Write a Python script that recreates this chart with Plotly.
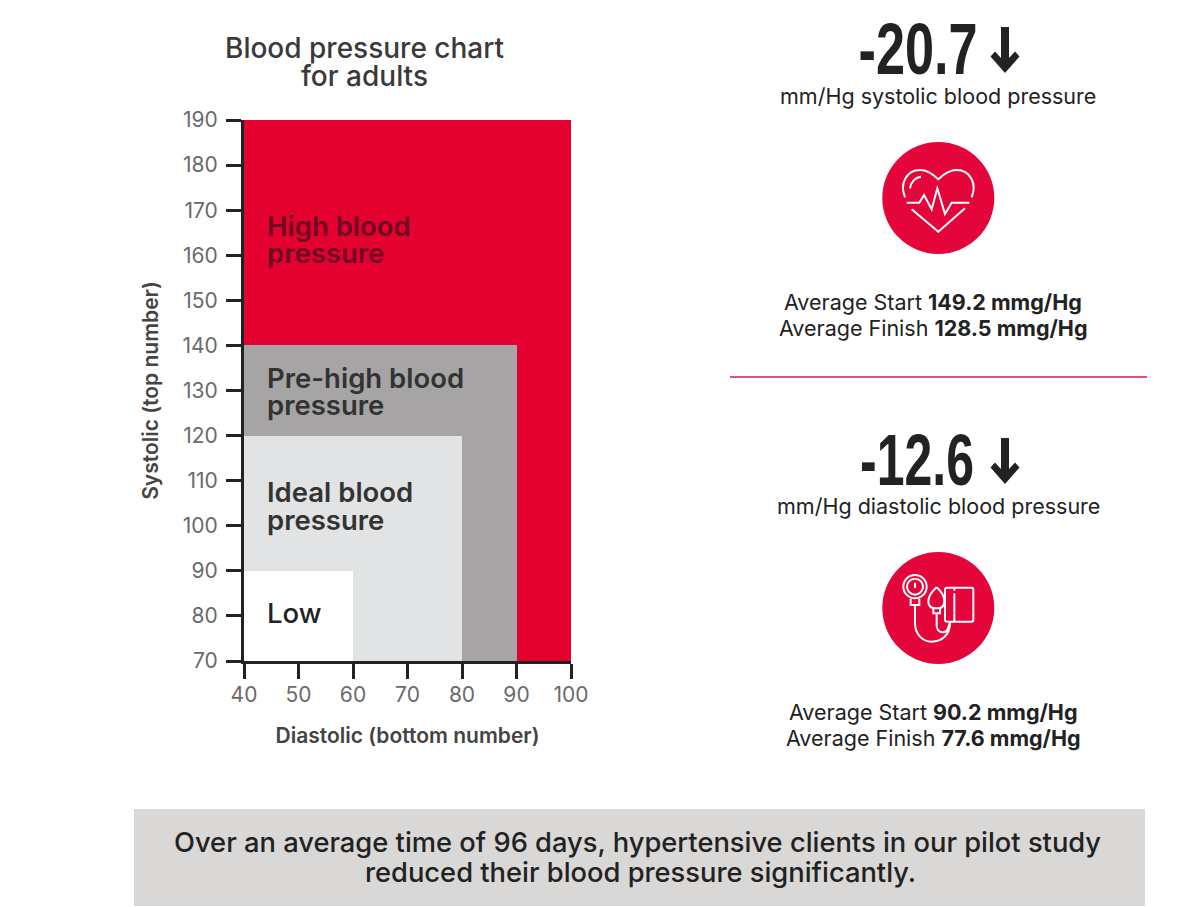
import plotly.graph_objects as go

# ---- data ----
zone_names = ["High blood pressure", "Pre-high blood pressure", "Ideal blood pressure", "Low"]
diastolic_upper = [100, 90, 80, 60]
systolic_upper = [190, 140, 120, 90]
zone_colors = ["#E4002F", "#A6A4A5", "#E1E3E5", "#FFFFFF"]
x_ticks = [40, 50, 60, 70, 80, 90, 100]
y_ticks = [70, 80, 90, 100, 110, 120, 130, 140, 150, 160, 170, 180, 190]
x_base = 40
y_base = 70

W, H = 1200, 907
DARK = "#222222"
FONT = "Inter"


def px(x):
    return x / W


def py(y):
    return 1 - y / H


def path(points, close=False):
    s = "M " + " L ".join(f"{px(x)},{py(y)}" for x, y in points)
    return s + (" Z" if close else "")


def text(x, y, s, size=20, color=DARK, weight=400, anchor="center", family=FONT, angle=0):
    return dict(x=px(x), y=py(y), xref="paper", yref="paper", text=s, showarrow=False,
                xanchor=anchor, yanchor="middle", textangle=angle,
                font=dict(size=size, color=color, family=family, weight=weight))


fig = go.Figure()
for name, d, s, c in zip(zone_names, diastolic_upper, systolic_upper, zone_colors):
    fig.add_trace(go.Bar(name=name, x=[(d + x_base) / 2], width=[d - x_base], y=[s - y_base],
                         base=[y_base], marker=dict(color=c, line=dict(width=0)), showlegend=False))

shapes = []
annots = []

annots += [
    text(365, 48, "Blood pressure chart", 28, "#3A3A3A", 500),
    text(365, 76, "for adults", 28, "#3A3A3A", 500),
    text(265, 226, "High blood", 27.5, "#6E0A22", 600, "left"),
    text(265, 253, "pressure", 27.5, "#6E0A22", 600, "left"),
    text(265, 378, "Pre-high blood", 27.5, "#333333", 600, "left"),
    text(265, 405, "pressure", 27.5, "#333333", 600, "left"),
    text(265, 492, "Ideal blood", 27.5, "#333333", 600, "left"),
    text(265, 520, "pressure", 27.5, "#333333", 600, "left"),
    text(265, 613, "Low", 27.5, "#222222", 500, "left"),
]

BIG = "Liberation Sans"
annots += [
    text(918, 48.5, "-20.7", 72, DARK, 700, family=BIG),
    text(938, 96, "mm/Hg systolic blood pressure", 21.5, DARK),
    text(933, 302, "Average Start <b>149.2 mmg/Hg</b>", 21.5, DARK),
    text(933, 328, "Average Finish <b>128.5 mmg/Hg</b>", 21.5, DARK),
    text(916.5, 460, "-12.6", 72, DARK, 700, family=BIG),
    text(938, 506, "mm/Hg diastolic blood pressure", 21.5, DARK),
    text(933, 712, "Average Start <b>90.2 mmg/Hg</b>", 21.5, DARK),
    text(933, 738, "Average Finish <b>77.6 mmg/Hg</b>", 21.5, DARK),
    text(637, 842, "Over an average time of 96 days, hypertensive clients in our pilot study", 27.3, DARK, 500),
    text(640, 872, "reduced their blood pressure significantly.", 27.3, DARK, 500),
]

shapes.append(dict(type="line", xref="paper", yref="paper", x0=px(730), x1=px(1147), y0=py(377), y1=py(377),
                   line=dict(color="#D8174B", width=1.5)))
shapes.append(dict(type="rect", xref="paper", yref="paper", x0=px(134), x1=px(1145), y0=py(809), y1=py(906),
                   fillcolor="#D9D8D6", line=dict(width=0), layer="below"))


def arrow(cx, top, bottom, head_y):
    return dict(type="path", xref="paper", yref="paper", fillcolor=DARK, line=dict(width=0),
                path=path([(cx - 4, top), (cx + 4, top), (cx + 4, head_y + 6), (cx + 10, head_y - 0.5),
                           (cx + 14.5, head_y + 4.5), (cx, bottom), (cx - 14.5, head_y + 4.5), (cx - 10, head_y - 0.5),
                           (cx - 4, head_y + 6)], True))


shapes.append(arrow(1005, 27, 73, 52))
shapes.append(arrow(1005, 438, 484, 463))


def disc(cx, cy, r):
    return dict(type="circle", xref="paper", yref="paper", x0=px(cx - r), x1=px(cx + r), y0=py(cy - r), y1=py(cy + r),
                fillcolor="#E4053A", line=dict(width=0))


shapes.append(disc(938.3, 198, 56))
shapes.append(disc(938.3, 608, 56))


def stroke(d, width=2):
    return dict(type="path", xref="paper", yref="paper", path=d, line=dict(color="white", width=width))


def zp(ox, oy, x, y):
    return f"{px(ox + x / 3):.5f},{py(oy + y / 3):.5f}"


def curve(ox, oy, cmds):
    out = []
    for c in cmds:
        out.append(c[0] + " " + " ".join(zp(ox, oy, *p) for p in c[1:]))
    return " ".join(out)


O1 = (860, 120)
shapes += [
    stroke(curve(*O1, [("M", (135, 232)), ("C", (118, 190), (140, 150), (180, 150)),
                       ("C", (205, 150), (222, 165), (235, 178)),
                       ("C", (248, 165), (265, 150), (290, 150)),
                       ("C", (330, 150), (352, 190), (335, 232))])),
    stroke(curve(*O1, [("M", (150, 205)), ("C", (152, 188), (165, 172), (183, 170))])),
    stroke(curve(*O1, [("M", (155, 268)), ("L", (235, 335)), ("L", (315, 265))])),
    stroke(curve(*O1, [("M", (140, 248)), ("L", (178, 248)), ("L", (192, 225)), ("L", (215, 268)),
                       ("L", (232, 205)), ("L", (255, 282)), ("L", (275, 248)), ("L", (328, 248))])),
]

O2 = (860, 540)


def ring(cx, cy, r):
    return dict(type="circle", xref="paper", yref="paper", x0=px(O2[0] + (cx - r) / 3), x1=px(O2[0] + (cx + r) / 3),
                y0=py(O2[1] + (cy - r) / 3), y1=py(O2[1] + (cy + r) / 3), line=dict(color="white", width=2))


shapes += [
    ring(165, 140, 35),
    ring(165, 140, 24),
    stroke(curve(*O2, [("M", (165, 128)), ("L", (165, 144))])),
    stroke(curve(*O2, [("M", (152, 176)), ("L", (152, 195)), ("L", (178, 195)), ("L", (178, 176))])),
    stroke(curve(*O2, [("M", (165, 195)), ("L", (165, 250)), ("C", (165, 285), (190, 305), (215, 305)),
                       ("C", (245, 305), (270, 285), (270, 248))])),
    stroke(curve(*O2, [("M", (230, 142)), ("C", (215, 155), (205, 170), (205, 185)),
                       ("C", (205, 198), (215, 205), (230, 205)),
                       ("C", (245, 205), (253, 198), (253, 185)),
                       ("C", (253, 170), (245, 155), (230, 142))])),
    stroke(curve(*O2, [("M", (220, 205)), ("L", (220, 220)), ("L", (240, 220)), ("L", (240, 205))])),
    stroke(curve(*O2, [("M", (230, 220)), ("L", (230, 258)), ("C", (232, 278), (252, 282), (262, 270)),
                       ("L", (270, 248))])),
    stroke(curve(*O2, [("M", (262, 143)), ("L", (334, 143)), ("C", (338, 143), (340, 145), (340, 149)),
                       ("L", (340, 239)), ("C", (340, 243), (338, 245), (334, 245)), ("L", (262, 245)),
                       ("C", (258, 245), (255, 243), (255, 239)), ("L", (255, 149)),
                       ("C", (255, 145), (258, 143), (262, 143))])),
    stroke(curve(*O2, [("M", (283, 160)), ("L", (283, 245))])),
    stroke(curve(*O2, [("M", (283, 145)), ("L", (283, 152))])),
]

axis_common = dict(showgrid=False, zeroline=False, showline=True, linecolor="#222222", linewidth=3,
                   automargin=False, ticks="outside", ticklen=15, tickwidth=3, tickcolor="#222222",
                   tickfont=dict(size=21, color="#6A6A6A", family=FONT))

fig.update_layout(
    template="none",
    width=W, height=H, margin=dict(l=0, r=0, t=0, b=0),
    paper_bgcolor="white", plot_bgcolor="white", barmode="overlay", bargap=0,
    shapes=shapes, annotations=annots, showlegend=False,
    xaxis=dict(domain=[px(244), px(571)], range=[x_base, diastolic_upper[0]], tickmode="array", tickvals=x_ticks,
               ticklabelstandoff=-2,
               title=dict(text="Diastolic (bottom number)", standoff=23,
                          font=dict(size=21, color="#444444", family=FONT, weight=600)), **axis_common),
    yaxis=dict(domain=[py(661), py(120)], range=[y_base, systolic_upper[0]], tickmode="array", tickvals=y_ticks,
               ticklabelstandoff=4,
               title=dict(text="Systolic (top number)", standoff=19,
                          font=dict(size=21, color="#444444", family=FONT, weight=600)), **axis_common),
)

squeeze = """
document.body.style.margin = '0';
var gd = document.getElementById('{plot_id}');
gd.querySelectorAll('.annotation-text').forEach(function (t) {
  if (/^-\\d/.test(t.textContent)) {
    t.setAttribute('textLength', t.textContent.indexOf('20') > 0 ? 119 : 114);
    t.setAttribute('lengthAdjust', 'spacingAndGlyphs');
  }
});
"""
fig.write_html("out.html", post_script=squeeze, config=dict(displayModeBar=False))
